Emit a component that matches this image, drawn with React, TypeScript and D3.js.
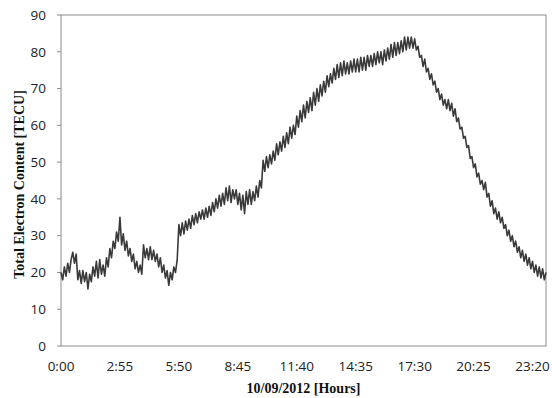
import React from 'react'
import * as d3 from 'd3'

// TEC readings every 5 minutes, 0:00 .. 24:00 (one row per hour)
const tecValues: number[] = [
  20, 18, 21.5, 19, 22.5, 20, 23.5, 25.5, 22.5, 25, 18, 20.5,
  17, 20.5, 17.5, 20, 15.5, 19.5, 17.5, 21.5, 19, 23, 18.5, 23.5,
  19.5, 22, 19, 24, 21.5, 26.5, 24, 28.5, 26.5, 31, 28.5, 35,
  27.5, 30.5, 26, 28.5, 24.5, 26.5, 23, 25, 21, 23, 20, 22,
  19.5, 27.5, 24, 26.5, 23.5, 27, 23.5, 26, 23, 25, 21.5, 24,
  20, 22, 18.5, 20.5, 16.5, 20, 18, 21.5, 20, 23.5, 33, 30,
  33.5, 30.5, 34, 31.5, 34.5, 32, 35.5, 33, 36, 33.5, 36.5, 34.5,
  37, 34.5, 37.5, 35, 38, 35.5, 39, 36.5, 40, 37.5, 41, 38,
  41.5, 38.5, 43, 39.5, 43.5, 39, 42.5, 40, 42.5, 38.5, 41.5, 37,
  41, 36, 42, 38.5, 42.5, 38.5, 42, 39.5, 43.5, 40.5, 45, 43,
  50.5, 47.5, 51.5, 48.5, 52, 49.5, 53, 50.5, 55, 52, 55.5, 53,
  57, 54, 58, 55, 59.5, 56.5, 60, 57.5, 62.5, 59.5, 64, 61,
  65.5, 62, 66.5, 63.5, 67.5, 64, 69, 65.5, 70, 66.5, 71, 68,
  72, 69, 73.5, 70.5, 74, 71.5, 75.5, 72.5, 76.5, 73, 77, 73.5,
  77.5, 74, 77, 74, 77.5, 74.5, 78, 74.5, 78, 74.5, 78.5, 75,
  78.5, 75, 79, 76, 79, 76, 79.5, 76.5, 80, 77, 80, 76.5,
  80.5, 77.5, 81, 78, 82, 78.5, 82.5, 79, 82.5, 79.5, 83, 80,
  84, 80.5, 84, 81, 84, 81, 83.5, 80.5, 81.5, 78.5, 79, 76,
  78, 74.5, 75.5, 72.5, 74, 71, 72, 69, 70, 67, 68.5, 65.5,
  67, 64.5, 67, 64, 66, 62.5, 64.5, 61, 62, 59, 59.5, 56.5,
  57, 54, 54.5, 51, 51.5, 48.5, 49.5, 46, 47, 44, 45, 42.5,
  44.5, 40.5, 41.5, 38, 39.5, 36, 37.5, 34.5, 36.5, 33.5, 35, 32,
  33, 30, 31.5, 28.5, 30, 27, 28.5, 25.5, 27, 24, 26, 23,
  25, 22, 24, 21, 23, 20, 22, 19, 21.5, 18.5, 21, 18,
  20,
]
const stepMinutes = 5
const xTickMinutes = [0, 175, 350, 525, 700, 875, 1050, 1225, 1400]
const yTicks = [0, 10, 20, 30, 40, 50, 60, 70, 80, 90]

const W = 552
const H = 398
const left = 61
const right = 546
const top = 15
const bottom = 346
const axisGrey = '#8c8c8c'
const labelFont = '"Open Sans", sans-serif'

const fmtTime = (m: number) => `${Math.floor(m / 60)}:${String(m % 60).padStart(2, '0')}`

const App = () => {
  const x = d3.scaleLinear().domain([0, 1440]).range([left, right])
  const y = d3.scaleLinear().domain([0, 90]).range([bottom, top])

  const path = d3
    .line<number>()
    .x((_, i) => x(i * stepMinutes))
    .y(d => y(d))(tecValues)

  return (
    <svg width={W} height={H} style={{ position: 'absolute', left: 0, top: 0, background: '#fff' }}>
      {/* plot frame */}
      <rect x={left} y={top} width={right - left} height={bottom - top} fill="none" stroke={axisGrey} strokeWidth={1} />

      {/* y axis ticks + labels */}
      {yTicks.map(t => (
        <g key={t}>
          <line x1={left - 4} x2={left} y1={y(t)} y2={y(t)} stroke={axisGrey} />
          <text x={46} y={y(t)} dy="0.35em" textAnchor="end" fontFamily={labelFont} fontSize={13.5} fill="#222">
            {t}
          </text>
        </g>
      ))}

      {/* x axis labels */}
      {xTickMinutes.map(m => (
        <text key={m} x={x(m)} y={371} textAnchor="middle" fontFamily={labelFont} fontSize={13.5} fill="#222">
          {fmtTime(m)}
        </text>
      ))}

      <path d={path ?? ''} fill="none" stroke="#3a3a3a" strokeWidth={1.6} strokeLinejoin="round" />

      <text
        x={(left + right) / 2}
        y={393}
        textAnchor="middle"
        fontFamily='"Liberation Serif", serif'
        fontWeight="bold"
        fontSize={14}
        fill="#111"
      >
        10/09/2012 [Hours]
      </text>
      <text
        transform={`translate(24, ${(top + bottom) / 2 + 4}) rotate(-90)`}
        textAnchor="middle"
        fontFamily='"Liberation Serif", serif'
        fontWeight="bold"
        fontSize={14}
        fill="#111"
      >
        Total Electron Content [TECU]
      </text>
    </svg>
  )
}

export default App
